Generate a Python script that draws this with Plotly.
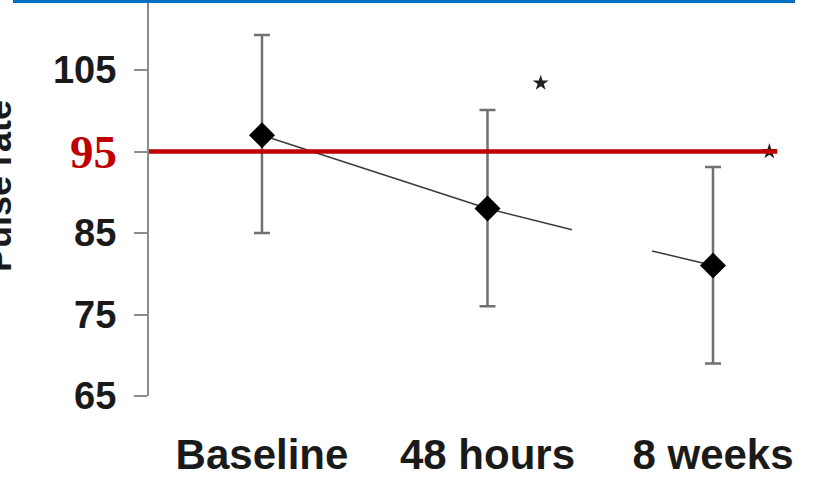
import plotly.graph_objects as go

# ---- data ----
categories = ["Baseline", "48 hours", "8 weeks"]
cat_pos = [0, 1, 2]
pulse_mean = [97.0, 88.0, 81.0]
pulse_err_plus = [12.3, 12.1, 12.1]
pulse_err_minus = [12.0, 12.0, 12.0]

trend1_x = [0, 1, 1.375]
trend1_y = [97.0, 88.0, 85.4]
trend2_x = [1.73, 2]
trend2_y = [82.8, 81.0]

star_x = [1.236, 2.25]
star_y = [103.4, 95.0]

ref_value = 95
ref_end_x = 2.285

ytick_vals = [65, 75, 85, 95, 105]
ytick_text = ["65", "75", "85", "", "105"]

# ---- layout constants ----
W, H = 820, 483
ML, MR, MT, MB = 149, 0, 0, 87
X_RANGE = [-0.501, 2.4745]
Y_RANGE = [65, 113.59]
plot_h = H - MT - MB
plot_w = W - ML - MR

AX_GREY = "#8c8c8c"
RED = "#c00000"
BLUE = "#0070c0"

fig = go.Figure()

fig.add_trace(go.Scatter(x=trend1_x, y=trend1_y, mode="lines",
                         line=dict(color="#3a3a3a", width=1.5), hoverinfo="skip"))
fig.add_trace(go.Scatter(x=trend2_x, y=trend2_y, mode="lines",
                         line=dict(color="#3a3a3a", width=1.5), hoverinfo="skip"))

fig.add_trace(go.Scatter(
    x=cat_pos, y=pulse_mean, mode="markers",
    marker=dict(symbol="diamond", size=20, color="black"),
    error_y=dict(type="data", symmetric=False, array=pulse_err_plus,
                 arrayminus=pulse_err_minus, color="#707070", thickness=2.5, width=8),
))

fig.add_trace(go.Scatter(x=star_x, y=star_y, mode="markers",
                         marker=dict(symbol="star", size=12, color="#222222"),
                         hoverinfo="skip"))

# red reference line
fig.add_shape(type="line", xref="x", yref="y", x0=X_RANGE[0], x1=ref_end_x,
              y0=ref_value, y1=ref_value, line=dict(color=RED, width=4.5), layer="above")

# blue top bar
fig.add_shape(type="rect", xref="paper", yref="paper",
              x0=(13 - ML) / plot_w, x1=(795 - ML) / plot_w,
              y0=1 - 3 / plot_h, y1=1 + 2 / plot_h,
              line=dict(width=0), fillcolor=BLUE, layer="above")

# red 95 label
fig.add_annotation(x=(119 - ML) / plot_w, xref="paper", y=ref_value, yref="y",
                   text="<b>95</b>", showarrow=False, xanchor="right", yanchor="middle",
                   font=dict(family="Liberation Serif", size=47, color=RED))

# partially visible 115 label
fig.add_annotation(x=(117 - ML) / plot_w, xref="paper", y=115, yref="y",
                   text="<b>115</b>", showarrow=False, xanchor="right", yanchor="middle",
                   font=dict(family="Liberation Sans", size=38, color="#1a1a1a"))

# y-axis title (cut off at left)
fig.add_annotation(x=(-2 - ML) / plot_w, xref="paper", y=1 - 186 / plot_h, yref="paper",
                   text="<b>Pulse rate</b>", showarrow=False, textangle=-90,
                   xanchor="center", yanchor="middle",
                   font=dict(family="Liberation Sans", size=36, color="#1a1a1a"))

fig.update_layout(
    width=W, height=H,
    margin=dict(l=ML, r=MR, t=MT, b=MB, pad=0),
    paper_bgcolor="white", plot_bgcolor="white",
    showlegend=False,
    xaxis=dict(range=X_RANGE, tickvals=cat_pos, ticktext=["<b>%s</b>" % c for c in categories],
               showline=False, showgrid=False, zeroline=False, ticks="",
               tickfont=dict(family="Liberation Sans", size=42, color="#1a1a1a"),
               ticklabelstandoff=30, automargin=False),
    yaxis=dict(range=Y_RANGE, tickvals=ytick_vals, ticktext=["<b>%s</b>" % t if t else "" for t in ytick_text],
               showline=True, linecolor=AX_GREY, linewidth=2,
               ticks="outside", ticklen=13, tickwidth=2, tickcolor=AX_GREY,
               showgrid=False, zeroline=False, ticklabelstandoff=10,
               tickfont=dict(family="Liberation Sans", size=38, color="#1a1a1a"),
               automargin=False),
)

fig.write_html("out.html")
